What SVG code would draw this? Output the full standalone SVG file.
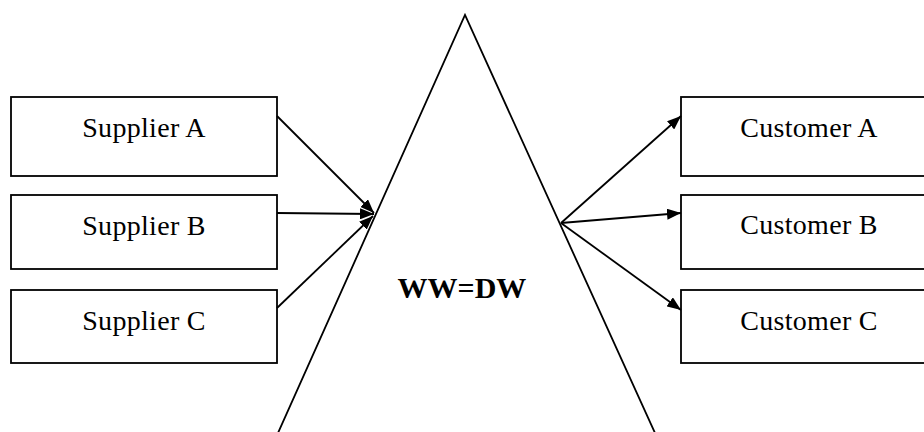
<svg xmlns="http://www.w3.org/2000/svg" width="924" height="432" viewBox="0 0 924 432">
<style>
.box{fill:#fff;stroke:#000;stroke-width:1.8}
.lbl{font-family:"Liberation Serif",serif;font-size:28px;letter-spacing:0.3px;fill:#000;text-anchor:middle}
.big{font-family:"Liberation Serif",serif;font-size:30px;font-weight:bold;fill:#000;text-anchor:middle}
.con{stroke:#000;stroke-width:1.8;fill:none}
</style>
<defs>
<marker id="ah" viewBox="0 0 14 11" refX="14" refY="5.5" markerWidth="14" markerHeight="11" markerUnits="userSpaceOnUse" orient="auto">
<path d="M0,0 L14,5.5 L0,11 z" fill="#000"/>
</marker>
</defs>
<rect width="924" height="432" fill="#fff"/>
<g id="triangle">
<polyline class="con" points="278,433 465,15 655,433"/>
<text class="big" x="462" y="298">WW=DW</text>
</g>
<g id="supplierA"><rect class="box" x="11" y="97" width="266" height="79"/><text class="lbl" x="144" y="137">Supplier A</text></g>
<g id="supplierB"><rect class="box" x="11" y="195" width="266" height="74"/><text class="lbl" x="144" y="235">Supplier B</text></g>
<g id="supplierC"><rect class="box" x="11" y="290" width="266" height="73"/><text class="lbl" x="144" y="330">Supplier C</text></g>
<g id="customerA"><rect class="box" x="681" y="97" width="260" height="79"/><text class="lbl" x="809" y="137">Customer A</text></g>
<g id="customerB"><rect class="box" x="681" y="195" width="260" height="74"/><text class="lbl" x="809" y="234">Customer B</text></g>
<g id="customerC"><rect class="box" x="681" y="290" width="260" height="73"/><text class="lbl" x="809" y="330">Customer C</text></g>
<g id="connectors">
<line class="con" x1="277" y1="116" x2="374" y2="213" marker-end="url(#ah)"/>
<line class="con" x1="277" y1="213" x2="374" y2="214" marker-end="url(#ah)"/>
<line class="con" x1="277" y1="308" x2="373" y2="216" marker-end="url(#ah)"/>
<line class="con" x1="561" y1="223" x2="681" y2="116" marker-end="url(#ah)"/>
<line class="con" x1="561" y1="223" x2="681" y2="213" marker-end="url(#ah)"/>
<line class="con" x1="561" y1="223" x2="681" y2="310" marker-end="url(#ah)"/>
</g>
</svg>
